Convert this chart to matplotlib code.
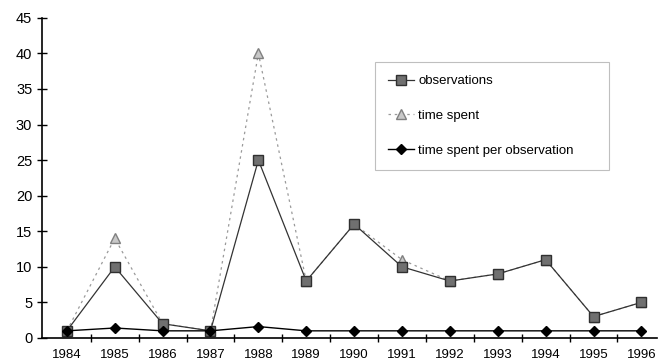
import matplotlib.pyplot as plt
import numpy as np

plt.rcParams['font.family'] = ['Liberation Sans', 'DejaVu Sans']

years = ['1984', '1985', '1986', '1987', '1988', '1989', '1990',
         '1991', '1992', '1993', '1994', '1995', '1996']
observations = [1, 10, 2, 1, 25, 8, 16, 10, 8, 9, 11, 3, 5]
time_spent = [1, 14, 2, 1, 40, 8, 16, 11, 8, 9, 11, 3, 5]
time_per_obs = [1, 1.4, 1, 1, 1.6, 1, 1, 1, 1, 1, 1, 1, 1]

x = np.arange(len(years))

fig = plt.figure(figsize=(6.61, 3.63), dpi=100)
ax = fig.add_axes([0.0635, 0.069, 0.93, 0.882])

ax.plot(x, time_spent, color='#9a9a9a', lw=0.9, ls=(0, (2, 3)),
        marker='^', ms=7, mfc='#c8c8c8', mec='#808080', label='time spent')
ax.plot(x, observations, color='#333333', lw=0.9, ls='-',
        marker='s', ms=7, mfc='#707070', mec='#303030', label='observations')
ax.plot(x, time_per_obs, color='black', lw=1.0,
        marker='D', ms=5.5, mfc='black', mec='black',
        label='time spent per observation')

ax.set_ylim(0, 45)
ax.set_yticks(range(0, 46, 5))
ax.set_xlim(-0.52, 12.32)

# labels at categories, ticks between them
ax.set_xticks(x)
ax.set_xticklabels(years)
ax.set_xticks(np.arange(0.5, 12.5, 1), minor=True)
ax.tick_params(axis='x', which='major', length=0, pad=8, labelsize=9.5)
ax.tick_params(axis='x', which='minor', length=6, direction='inout', width=1)
ax.tick_params(axis='y', length=7, direction='inout', width=1, labelsize=10.5)

for s in ['top', 'right']:
    ax.spines[s].set_visible(False)
ax.spines['left'].set_linewidth(1.2)
ax.spines['bottom'].set_linewidth(1.2)

h, l = ax.get_legend_handles_labels()
order = [1, 0, 2]
leg = ax.legend([h[i] for i in order], [l[i] for i in order],
                loc='upper left', bbox_to_anchor=(0.541, 0.5, 0.382, 0.3625),
                mode='expand', fontsize=9.5, frameon=True, fancybox=False,
                edgecolor='#b0b0b0', handlelength=2.0, handletextpad=0.3,
                labelspacing=1.7, borderpad=1.0, borderaxespad=0)
leg.get_frame().set_linewidth(0.8)

plt.savefig('out.png', dpi=100)
